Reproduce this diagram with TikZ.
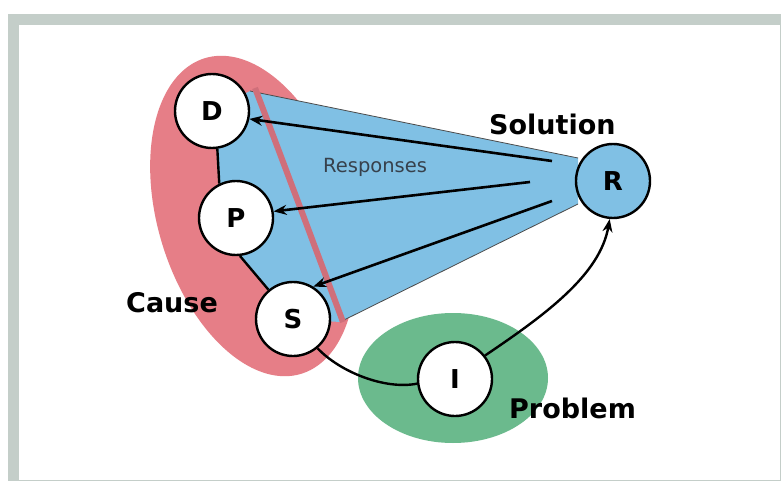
\documentclass[tikz,border=0pt]{standalone}
\usepackage{fontspec}
\setmainfont{DejaVu Sans}
\usetikzlibrary{arrows.meta}
\pgfdeclarelayer{bg}
\pgfsetlayers{bg,main}
\definecolor{frameg}{HTML}{C4CEC9}
\definecolor{causered}{HTML}{E67E87}
\definecolor{redline}{HTML}{CF6F7A}
\definecolor{solblue}{HTML}{80C0E4}
\definecolor{probgreen}{HTML}{6BBA8D}
\definecolor{resptext}{HTML}{37414C}
\tikzset{
  circnode/.style={circle, draw=black, line width=2.4pt, fill=white, minimum size=74pt, inner sep=0pt, font=\fontsize{26}{26}\selectfont\bfseries},
  lbl/.style={font=\fontsize{27}{27}\selectfont\bfseries, inner sep=0pt},
  resp/.style={-{Stealth[length=13pt,width=10pt]}, line width=2.6pt},
  link/.style={line width=2.4pt},
}
\begin{document}
\begin{tikzpicture}[x=1pt,y=-1pt]
\useasboundingbox (0,0) rectangle (781,481);
% nodes
\node[circnode] (D) at (212,111) {D};
\node[circnode] (P) at (236,218) {P};
\node[circnode] (S) at (293,319) {S};
\node[circnode] (I) at (455,379) {I};
\node[circnode, fill=solblue] (R) at (613,181) {R};
\coordinate (bA) at (250,91);
\coordinate (bB) at (578,158);
\coordinate (bC) at (578,204);
\coordinate (bD) at (340,322);
\begin{pgfonlayer}{bg}
% frame
\fill[frameg] (8,14) rectangle (781,481);
\fill[white] (19,25) rectangle (780,480);
% cause ellipse
\fill[causered] plot[domain=0:360, samples=120, smooth cycle, variable=\t]
  ({253+165*cos(\t)*cos(73)-95*sin(\t)*sin(73)}, {216+165*cos(\t)*sin(73)+95*sin(\t)*cos(73)});
% problem ellipse
\fill[probgreen] (453,378) ellipse [x radius=95, y radius=65];
% solution fan
\fill[solblue] (bA) -- (bB) -- (bC) -- (bD) -- (S.center) -- (S.130) -- (P.-84) -- (P.center) -- (P.116) -- (D.-82) -- (D.center) -- cycle;
\draw[line width=0.8pt, black!70] (bA) -- (bB);
\draw[line width=0.8pt, black!70] (bC) -- (bD);
% red boundary line
\draw[redline, line width=6pt] (255,88) .. controls (275,140) and (318,255) .. (343,322);
\draw[link] (D.-82) -- (P.116);
\draw[link] (P.-84) -- (S.130);
\end{pgfonlayer}
% response arrows
\coordinate (r1) at (552,161);
\coordinate (r2) at (530,182);
\coordinate (r3) at (552,201);
\draw[resp] (r1) -- (D.-12);
\draw[resp] (r2) -- (P.10);
\draw[resp] (r3) -- (S.58);
% S -- I and I -> R
\draw[link] (S.-50) .. controls (340,372) and (385,390) .. (I.187);
\draw[link, -{Stealth[length=13pt,width=10pt]}] (I.38) .. controls (545,315) and (600,275) .. (R.-95);
% labels
\node[lbl, anchor=base west] (sol) at (489,135) {Solution};
\node[lbl, anchor=base west] (cause) at (126,312) {Cause};
\node[lbl, anchor=base west] (prob) at (509,418) {Problem};
\node[font=\fontsize{19.5}{19.5}\selectfont, text=resptext, inner sep=0pt, anchor=base west] (rs) at (323,172) {Responses};
\end{tikzpicture}
\end{document}
